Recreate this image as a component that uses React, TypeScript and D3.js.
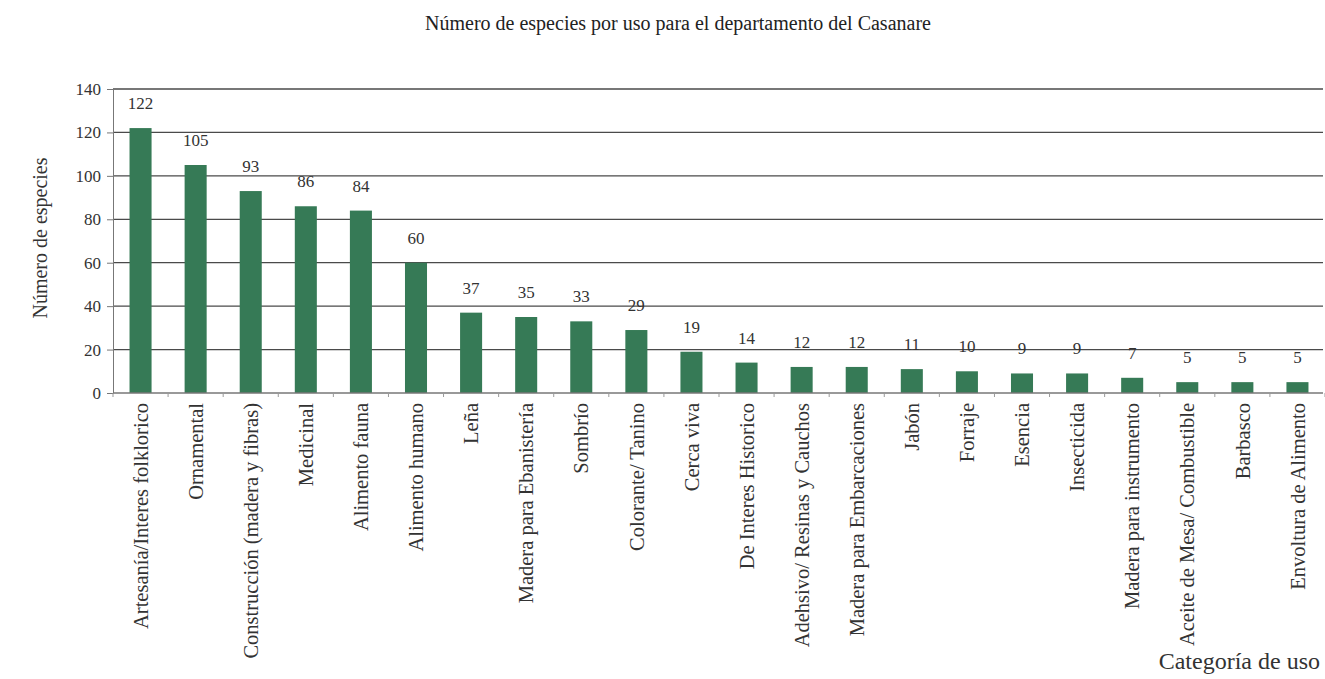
import { useEffect, useRef } from "react"
import * as d3 from "d3"

const categories = [
  "Artesanía/Interes folklorico",
  "Ornamental",
  "Construcción (madera y fibras)",
  "Medicinal",
  "Alimento fauna",
  "Alimento humano",
  "Leña",
  "Madera para Ebanistería",
  "Sombrío",
  "Colorante/ Tanino",
  "Cerca viva",
  "De Interes Historico",
  "Adehsivo/ Resinas y Cauchos",
  "Madera para Embarcaciones",
  "Jabón",
  "Forraje",
  "Esencia",
  "Insecticida",
  "Madera para instrumento",
  "Aceite de Mesa/ Combustible",
  "Barbasco",
  "Envoltura de Alimento",
]
const counts = [122, 105, 93, 86, 84, 60, 37, 35, 33, 29, 19, 14, 12, 12, 11, 10, 9, 9, 7, 5, 5, 5]
const yTicks = [0, 20, 40, 60, 80, 100, 120, 140]

const W = 1325
const H = 679
const font = "'Liberation Serif', 'DejaVu Serif', serif"

export default function App() {
  const svgRef = useRef<SVGSVGElement>(null)

  useEffect(() => {
    d3.select(svgRef.current).selectAll("*").remove()
    if (!svgRef.current) return
    const svg = d3.select(svgRef.current)
    const margin = { top: 89, right: 0, bottom: 286, left: 113 }

    const x = d3.scaleBand<string>()
      .domain(categories)
      .range([margin.left, W - margin.right])
      .paddingInner(0.6)
      .paddingOuter(0.3)

    const y = d3.scaleLinear()
      .domain([0, 140])
      .range([H - margin.bottom, margin.top])

    // gridlines
    svg.append("g")
      .selectAll("line")
      .data(yTicks.filter(d => d > 0))
      .join("line")
      .attr("x1", margin.left)
      .attr("x2", W - 2)
      .attr("y1", d => y(d))
      .attr("y2", d => y(d))
      .attr("stroke", "#4a4a4a")
      .attr("stroke-width", 1.3)

    // y axis
    const yAxis = svg.append("g")
      .attr("transform", `translate(${margin.left},0)`)
      .call(d3.axisLeft(y).tickValues(yTicks).tickSize(6).tickPadding(6))
    yAxis.select(".domain").attr("stroke", "#777")
    yAxis.selectAll(".tick line").attr("stroke", "#777")
    yAxis.selectAll("text")
      .attr("font-family", font)
      .attr("font-size", 17)
      .attr("fill", "#333")

    // bars
    svg.append("g")
      .selectAll("rect")
      .data(categories)
      .join("rect")
      .attr("x", d => x(d)!)
      .attr("width", x.bandwidth())
      .attr("y", (d, i) => y(counts[i]))
      .attr("height", (d, i) => y(0) - y(counts[i]))
      .attr("fill", "#367a56")

    // value labels
    svg.append("g")
      .selectAll("text")
      .data(categories)
      .join("text")
      .attr("x", d => x(d)! + x.bandwidth() / 2)
      .attr("y", (d, i) => y(counts[i]) - 19)
      .attr("text-anchor", "middle")
      .attr("font-family", font)
      .attr("font-size", 17)
      .attr("fill", "#333")
      .text((d, i) => counts[i])

    // x axis
    const step = x.step()
    const xAxis = svg.append("g")
      .attr("transform", `translate(0,${y(0)})`)
    xAxis.append("line")
      .attr("x1", margin.left)
      .attr("x2", W - 2)
      .attr("stroke", "#777")
      .attr("stroke-width", 1.3)
    xAxis.selectAll("line.tk")
      .data(d3.range(categories.length + 1))
      .join("line")
      .attr("class", "tk")
      .attr("x1", i => margin.left + i * step)
      .attr("x2", i => margin.left + i * step)
      .attr("y1", 0)
      .attr("y2", 4)
      .attr("stroke", "#999")
    xAxis.selectAll("text")
      .data(categories)
      .join("text")
      .attr("transform", d => `translate(${x(d)! + x.bandwidth() / 2},10) rotate(-90)`)
      .attr("text-anchor", "end")
      .attr("dy", "0.35em")
      .attr("font-family", font)
      .attr("font-size", 20.5)
      .attr("fill", "#333")
      .text(d => d)

    // title
    svg.append("text")
      .attr("x", 678)
      .attr("y", 30)
      .attr("text-anchor", "middle")
      .attr("font-family", font)
      .attr("font-size", 20)
      .attr("fill", "#222")
      .text("Número de especies por uso para el departamento del Casanare")

    // axis titles
    svg.append("text")
      .attr("transform", `translate(47,238) rotate(-90)`)
      .attr("text-anchor", "middle")
      .attr("font-family", font)
      .attr("font-size", 20)
      .attr("fill", "#333")
      .text("Número de especies")

    svg.append("text")
      .attr("x", W - 5)
      .attr("y", 669)
      .attr("text-anchor", "end")
      .attr("font-family", font)
      .attr("font-size", 24)
      .attr("fill", "#333")
      .text("Categoría de uso")
  }, [])

  return (
    <div style={{ position: "fixed", left: 0, top: 0, width: W, height: H, overflow: "hidden" }}>
      <svg ref={svgRef} width={W} height={H} style={{ display: "block", background: "#fff" }}></svg>
    </div>
  )
}
